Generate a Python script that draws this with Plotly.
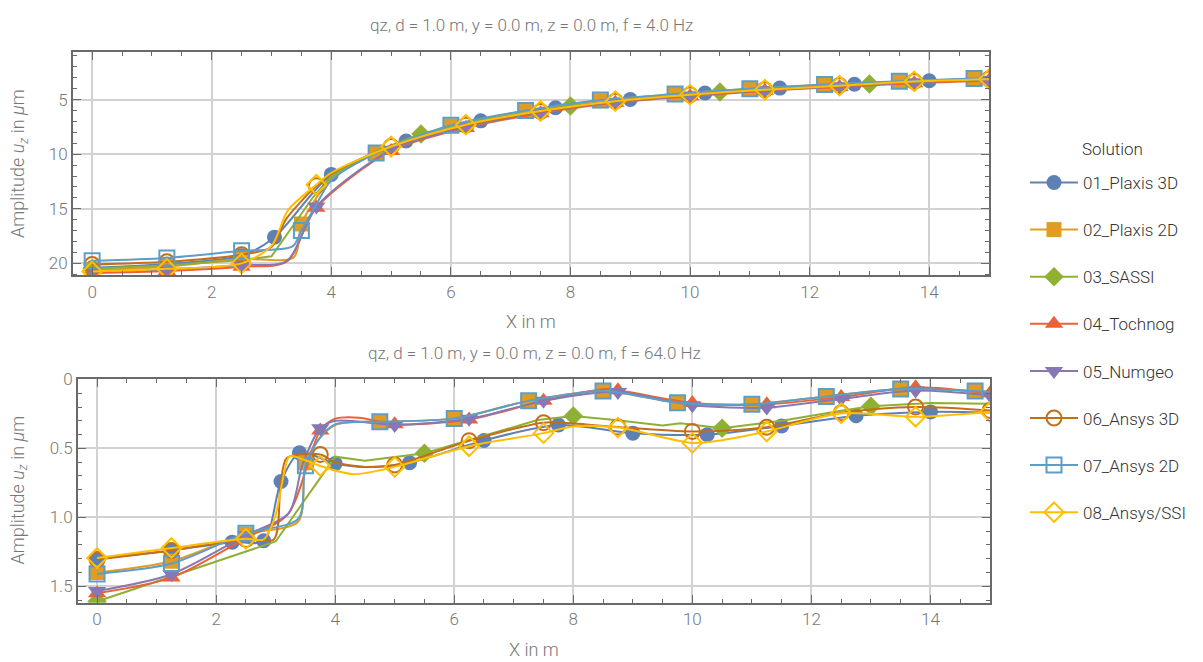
import plotly.graph_objects as go

# the page places the figure 8 px from the top-left corner (body margin)
OFF = 8
W, H = 1203 - OFF, 662 - OFF

NAMES = ["01_Plaxis 3D", "02_Plaxis 2D", "03_SASSI", "04_Tochnog",
         "05_Numgeo", "06_Ansys 3D", "07_Ansys 2D", "08_Ansys/SSI"]
COLORS = ["#5E81B5", "#E19C24", "#8FB032", "#EB6235",
          "#8778B3", "#C56E1A", "#5D9EC7", "#FFBF00"]
SYMBOLS = ["circle", "square", "diamond", "triangle-up",
           "triangle-down", "circle-open", "square-open", "diamond-open"]

TITLE_TOP = "qz, d = 1.0 m, y = 0.0 m, z = 0.0 m, f = 4.0 Hz"
TITLE_BOT = "qz, d = 1.0 m, y = 0.0 m, z = 0.0 m, f = 64.0 Hz"
X_TITLE = "X in m"
Y_TITLE = "Amplitude <i>u</i><sub><i>z</i></sub> in <i>μ</i>m"
LEGEND_TITLE = "Solution"

X_TICKS = [0, 2, 4, 6, 8, 10, 12, 14]
Y_TICKS_TOP = [5, 10, 15, 20]
Y_TICKS_BOT = [0, 0.5, 1.0, 1.5]
Y_TICKTEXT_BOT = ["0", "0.5", "1.0", "1.5"]

# marker stations
MX_EVERY = [0, 1.25, 2.5, 3.75, 5.0, 6.25, 7.5, 8.75, 10.0, 11.25, 12.5, 13.75, 15.0]
MX_SQUARE = [0, 1.25, 2.5, 3.5, 4.75, 6.0, 7.25, 8.5, 9.75, 11.0, 12.25, 13.5, 14.75]
MX_SASSI = [0, 5.5, 8.0, 10.5, 13.0]
MX_P3_TOP = [0, 1.25, 2.5, 3.05, 4.0, 5.25, 6.5, 7.75, 9.0, 10.25, 11.5, 12.75, 14.0]
MX_P3_BOT = [0, 1.25, 2.27, 2.8, 3.09, 3.4, 4.0, 5.25, 6.5, 7.75, 9.0, 10.25, 11.5, 12.75, 14.0]

# ---------------- f = 4 Hz ----------------
X_P3_TOP = [0, 1.25, 2.5, 3.05, 4.0, 5.25, 6.5, 7.75, 9.0, 10.25, 11.5, 12.75, 14.0, 15.0]
Y_P3_TOP = [20.4, 20.05, 19.3, 17.6, 11.85, 8.8, 6.95, 5.75, 5.0, 4.4, 3.95, 3.6, 3.28, 3.1]

X_P2_TOP = [0, 1.25, 2.5, 3.37, 3.5, 3.75, 4.0, 4.75, 6.0, 7.25, 8.5, 9.75, 11.0, 12.25, 13.5, 14.75, 15.0]
Y_P2_TOP = [20.6, 20.3, 19.6, 19.45, 16.4, 14.0, 12.3, 9.9, 7.4, 6.05, 5.1, 4.5, 4.0, 3.65, 3.35, 3.1, 3.08]

X_SA_TOP = [0, 1.25, 2.5, 3.0, 3.7, 4.0, 4.75, 5.5, 6.5, 8.0, 9.0, 10.5, 11.5, 13.0, 14.0, 15.0]
Y_SA_TOP = [20.5, 20.2, 19.7, 19.35, 13.9, 12.0, 9.7, 8.15, 6.9, 5.6, 5.0, 4.3, 3.95, 3.58, 3.3, 3.1]

X_TO_TOP = [0, 1.25, 2.5, 3.25, 3.75, 5.0, 6.25, 7.5, 8.75, 10.0, 11.25, 12.5, 13.75, 15.0]
Y_TO_TOP = [20.9, 20.7, 20.3, 19.85, 14.9, 9.7, 7.6, 6.25, 5.3, 4.7, 4.2, 3.85, 3.5, 3.25]

X_NU_TOP = [0, 1.25, 2.5, 3.25, 3.75, 5.0, 6.25, 7.5, 8.75, 10.0, 11.25, 12.5, 13.75, 15.0]
Y_NU_TOP = [20.7, 20.55, 20.15, 19.8, 14.8, 9.6, 7.5, 6.15, 5.2, 4.62, 4.15, 3.78, 3.42, 3.18]

X_A3_TOP = [0, 1.25, 2.5, 3.0, 3.25, 3.75, 4.0, 5.0, 6.25, 7.5, 8.75, 10.0, 11.25, 12.5, 13.75, 15.0]
Y_A3_TOP = [20.1, 19.85, 19.2, 18.5, 15.9, 12.9, 11.8, 9.3, 7.35, 6.1, 5.15, 4.55, 4.1, 3.72, 3.35, 3.12]

X_A2_TOP = [0, 1.25, 2.5, 3.35, 3.5, 3.75, 4.0, 4.75, 6.0, 7.25, 8.5, 9.75, 11.0, 12.25, 13.5, 14.75, 15.0]
Y_A2_TOP = [19.75, 19.5, 18.85, 18.45, 17.0, 14.6, 12.4, 9.9, 7.35, 6.0, 5.05, 4.5, 4.0, 3.62, 3.32, 3.08, 3.06]

X_AS_TOP = [0, 1.25, 2.5, 3.0, 3.28, 3.75, 4.0, 5.0, 6.25, 7.5, 8.75, 10.0, 11.25, 12.5, 13.75, 15.0]
Y_AS_TOP = [20.75, 20.5, 20.0, 18.4, 15.1, 12.8, 11.7, 9.3, 7.3, 6.05, 5.15, 4.55, 4.1, 3.73, 3.34, 3.13]

# ---------------- f = 64 Hz ----------------
X_P3_BOT = [0, 1.25, 2.27, 2.8, 3.09, 3.4, 4.0, 4.5, 5.25, 6.5, 7.75, 9.0, 10.25, 11.5, 12.75, 14.0, 15.0]
Y_P3_BOT = [1.30, 1.24, 1.18, 1.17, 0.74, 0.532, 0.61, 0.635, 0.604, 0.442, 0.33, 0.389, 0.40, 0.337, 0.263, 0.235, 0.24]

X_P2_BOT = [0, 1.25, 2.5, 3.38, 3.5, 3.75, 4.0, 4.25, 4.75, 6.0, 7.25, 8.5, 9.75, 11.0, 12.25, 13.5, 14.75, 15.0]
Y_P2_BOT = [1.40, 1.318, 1.12, 1.03, 0.604, 0.42, 0.33, 0.31, 0.306, 0.282, 0.155, 0.083, 0.168, 0.18, 0.123, 0.068, 0.084, 0.088]

X_SA_BOT = [0, 3.0, 4.0, 4.5, 5.5, 6.5, 7.4, 8.0, 8.7, 9.5, 9.8, 10.5, 11.5, 12.5, 13.0, 14.0, 15.0]
Y_SA_BOT = [1.61, 1.175, 0.56, 0.59, 0.535, 0.41, 0.294, 0.265, 0.294, 0.334, 0.318, 0.354, 0.30, 0.227, 0.194, 0.17, 0.175]

X_TO_BOT = [0, 1.25, 2.5, 3.2, 3.75, 4.0, 4.4, 5.0, 6.25, 7.5, 8.5, 8.75, 10.0, 11.25, 12.5, 13.75, 15.0]
Y_TO_BOT = [1.55, 1.437, 1.15, 0.98, 0.37, 0.285, 0.277, 0.325, 0.29, 0.155, 0.07, 0.078, 0.17, 0.18, 0.127, 0.056, 0.1]

X_NU_BOT = [0, 1.25, 2.5, 3.22, 3.45, 3.75, 4.0, 4.5, 5.0, 6.25, 7.5, 8.75, 10.0, 11.25, 12.5, 13.75, 15.0]
Y_NU_BOT = [1.535, 1.413, 1.13, 0.97, 0.62, 0.354, 0.30, 0.31, 0.33, 0.285, 0.155, 0.09, 0.187, 0.204, 0.14, 0.08, 0.115]

X_A3_BOT = [0, 1.25, 2.5, 2.97, 3.08, 3.19, 3.75, 4.0, 4.5, 5.0, 6.25, 7.5, 8.0, 8.75, 10.0, 11.25, 12.5, 13.75, 15.0]
Y_A3_BOT = [1.305, 1.24, 1.16, 1.16, 0.78, 0.568, 0.544, 0.6, 0.634, 0.62, 0.444, 0.313, 0.32, 0.345, 0.377, 0.346, 0.242, 0.2, 0.225]

X_A2_BOT = [0, 1.25, 2.5, 3.38, 3.5, 3.75, 4.0, 4.25, 4.75, 6.0, 7.25, 8.5, 9.75, 11.0, 12.25, 13.5, 14.75, 15.0]
Y_A2_BOT = [1.41, 1.335, 1.115, 1.01, 0.625, 0.42, 0.325, 0.31, 0.306, 0.282, 0.155, 0.083, 0.168, 0.18, 0.123, 0.068, 0.084, 0.088]

X_AS_BOT = [0, 1.25, 2.5, 2.8, 2.99, 3.22, 3.3, 3.75, 4.31, 5.0, 6.25, 7.5, 8.0, 8.75, 10.0, 10.5, 11.25, 12.5, 13.75, 15.0]
Y_AS_BOT = [1.295, 1.222, 1.156, 1.16, 0.996, 0.563, 0.556, 0.627, 0.687, 0.634, 0.484, 0.389, 0.341, 0.349, 0.46, 0.44, 0.377, 0.245, 0.27, 0.235]

TOP = [(X_P3_TOP, Y_P3_TOP, MX_P3_TOP), (X_P2_TOP, Y_P2_TOP, MX_SQUARE),
       (X_SA_TOP, Y_SA_TOP, MX_SASSI), (X_TO_TOP, Y_TO_TOP, MX_EVERY),
       (X_NU_TOP, Y_NU_TOP, MX_EVERY), (X_A3_TOP, Y_A3_TOP, MX_EVERY),
       (X_A2_TOP, Y_A2_TOP, MX_SQUARE), (X_AS_TOP, Y_AS_TOP, MX_EVERY)]
BOT = [(X_P3_BOT, Y_P3_BOT, MX_P3_BOT), (X_P2_BOT, Y_P2_BOT, MX_SQUARE),
       (X_SA_BOT, Y_SA_BOT, MX_SASSI), (X_TO_BOT, Y_TO_BOT, MX_EVERY),
       (X_NU_BOT, Y_NU_BOT, MX_EVERY), (X_A3_BOT, Y_A3_BOT, MX_EVERY),
       (X_A2_BOT, Y_A2_BOT, MX_SQUARE), (X_AS_BOT, Y_AS_BOT, MX_EVERY)]
LINEAR = {2}  # SASSI drawn piecewise linear

FONT = "Roboto"
TXT = "#777777"
AX = "#6a6a6a"
GRID = "#d2d2d2"


def px(p):
    """reference page x (px) -> paper fraction"""
    return (p - OFF) / W


def py(p):
    """reference page y (px, from top) -> paper fraction"""
    return 1 - (p - OFF) / H


def pick(X, Y, MX):
    mx, my = [], []
    for x, y in zip(X, Y):
        if any(abs(x - m) < 1e-6 for m in MX):
            mx.append(x)
            my.append(y)
    return mx, my


fig = go.Figure()

for i in range(8):
    c = COLORS[i]
    sym = SYMBOLS[i]
    is_open = sym.endswith("open")
    mk = dict(symbol=sym, size=15 if "triangle" not in sym else 16, color=c,
              line=dict(width=2 if is_open else 0, color=c))
    for (data, xa, ya) in ((TOP[i], "x", "y"), (BOT[i], "x2", "y2")):
        X, Y, MX = data
        shape = "linear" if i in LINEAR else "spline"
        fig.add_trace(go.Scatter(
            x=X, y=Y, mode="lines", xaxis=xa, yaxis=ya,
            line=dict(color=c, width=2, shape=shape, smoothing=0.8),
            showlegend=False, legendgroup=NAMES[i], hoverinfo="skip"))
        mx, my = pick(X, Y, MX)
        fig.add_trace(go.Scatter(
            x=mx, y=my, mode="markers", xaxis=xa, yaxis=ya, marker=mk,
            showlegend=False, legendgroup=NAMES[i], name=NAMES[i]))
    # legend entry
    fig.add_trace(go.Scatter(
        x=[None], y=[None], mode="lines+markers", name=NAMES[i],
        legendgroup=NAMES[i], xaxis="x", yaxis="y",
        line=dict(color=c, width=2), marker=mk))

TICKFONT = dict(family=FONT, size=17, color=TXT, weight=300)
axis_common = dict(
    showline=True, linecolor=AX, linewidth=2, mirror="allticks",
    ticks="inside", ticklen=8, tickwidth=1.3, tickcolor=AX,
    showgrid=True, gridcolor=GRID, gridwidth=1.5, zeroline=False,
    tickfont=TICKFONT,
)

fig.update_layout(
    width=W, height=H, margin=dict(l=0, r=0, t=0, b=0),
    paper_bgcolor="white", plot_bgcolor="white",
    font=dict(family=FONT, color=TXT),
    xaxis=dict(domain=[px(73), px(989)], range=[-0.32, 15.0], anchor="y",
               tickmode="array", tickvals=X_TICKS,
               minor=dict(dtick=0.5, tick0=0, ticks="inside", ticklen=4,
                          tickcolor=AX, tickwidth=1.3, showgrid=False),
               **axis_common),
    yaxis=dict(domain=[py(270), py(43)], range=[21.1, 0.6], anchor="x",
               tickmode="array", tickvals=Y_TICKS_TOP,
               minor=dict(dtick=1, tick0=0, ticks="inside", ticklen=4,
                          tickcolor=AX, tickwidth=1.3, showgrid=False),
               **axis_common),
    xaxis2=dict(domain=[px(78), px(990)], range=[-0.32, 15.0], anchor="y2",
                tickmode="array", tickvals=X_TICKS,
                minor=dict(dtick=0.5, tick0=0, ticks="inside", ticklen=4,
                           tickcolor=AX, tickwidth=1.3, showgrid=False),
                **axis_common),
    yaxis2=dict(domain=[py(602), py(375)], range=[1.62, -0.004], anchor="x2",
                tickmode="array", tickvals=Y_TICKS_BOT, ticktext=Y_TICKTEXT_BOT,
                minor=dict(dtick=0.1, tick0=0, ticks="inside", ticklen=4,
                           tickcolor=AX, tickwidth=1.3, showgrid=False),
                **axis_common),
    legend=dict(x=px(1025), y=py(158), xanchor="left", yanchor="top",
                itemwidth=48, tracegroupgap=22, bgcolor="rgba(0,0,0,0)",
                font=dict(family=FONT, size=17, color="#333333", weight=300)),
    showlegend=True,
)

ann = [
    (TITLE_TOP, 531, 16, 0, 17),
    (TITLE_BOT, 534, 349, 0, 17),
    (X_TITLE, 531, 317, 0, 18),
    (X_TITLE, 534, 649, 0, 18),
    (Y_TITLE, 19, 157, -90, 18),
    (Y_TITLE, 19, 488, -90, 18),
]
for text, x, y, ang, size in ann:
    fig.add_annotation(text=text, x=px(x), y=py(y), xref="paper", yref="paper",
                       showarrow=False, textangle=ang, xanchor="center",
                       yanchor="middle",
                       font=dict(family=FONT, size=size, color=TXT, weight=300))
fig.add_annotation(text=LEGEND_TITLE, x=px(1080), y=py(142), xref="paper",
                   yref="paper", showarrow=False, xanchor="left", yanchor="middle",
                   font=dict(family=FONT, size=17, color="#333333", weight=300))

fig.write_html("out.html")
